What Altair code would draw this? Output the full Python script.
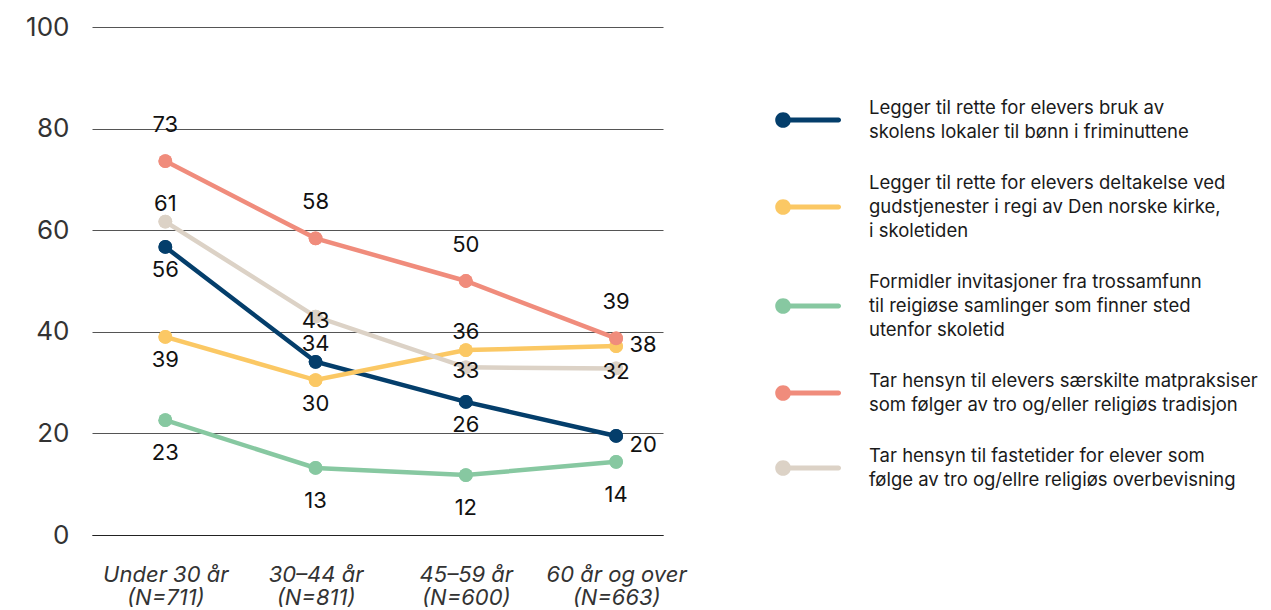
import altair as alt
import pandas as pd

ages = ["Under 30 år", "30–44 år", "45–59 år", "60 år og over"]
ns = ["(N=711)", "(N=811)", "(N=600)", "(N=663)"]

series = [
    "Legger til rette for elevers bruk av\nskolens lokaler til bønn i friminuttene",
    "Legger til rette for elevers deltakelse ved\ngudstjenester i regi av Den norske kirke,\ni skoletiden",
    "Formidler invitasjoner fra trossamfunn\ntil reigiøse samlinger som finner sted\nutenfor skoletid",
    "Tar hensyn til elevers særskilte matpraksiser\nsom følger av tro og/eller religiøs tradisjon",
    "Tar hensyn til fastetider for elever som\nfølge av tro og/ellre religiøs overbevisning",
]
colors = ["#043e6b", "#fbc864", "#87c8a1", "#f08c7c", "#dcd2c6"]

values = [
    [56.7, 34.1, 26.2, 19.5],
    [39.0, 30.5, 36.4, 37.2],
    [22.6, 13.2, 11.8, 14.4],
    [73.6, 58.4, 50.0, 38.7],
    [61.7, 43.0, 33.0, 32.8],
]
labels = [
    [56, 34, 26, 20],
    [39, 30, 36, 38],
    [23, 13, 12, 14],
    [73, 58, 50, 39],
    [61, 43, 33, 32],
]
# label placement: a = above, A = far above, b = below, B = far below,
# r = right (lower), R = right (upper), c = on point
placement = [
    ["b", "a", "b", "r"],
    ["b", "b", "a", "R"],
    ["B", "B", "B", "B"],
    ["A", "A", "A", "A"],
    ["a", "c", "c", "c"],
]

cats = [f"{a}\n{n}" for a, n in zip(ages, ns)]
rows = []
for si, s in enumerate(series):
    for ci, c in enumerate(cats):
        rows.append({"serie": s, "kat": c, "verdi": values[si][ci],
                     "etikett": str(labels[si][ci]), "plass": placement[si][ci]})
df = pd.DataFrame(rows)

FONT = "Inter"

x = alt.X("kat:N", sort=cats, title=None,
          scale=alt.Scale(type="point", padding=0.4, align=0.61),
          axis=alt.Axis(labelExpr="split(datum.label, '\\n')", labelAngle=0,
                        labelFontSize=22, labelFontStyle="italic", labelColor="#333333",
                        labelFont=FONT, labelPadding=29, labelLineHeight=23.5,
                        ticks=False, domain=True, domainColor="#222222", domainWidth=1,
                        grid=False, labelBaseline="top"))
y = alt.Y("verdi:Q", title=None,
          scale=alt.Scale(domain=[0, 100], nice=False),
          axis=alt.Axis(values=[0, 20, 40, 60, 80, 100], labelFontSize=26, labelFont=FONT,
                        labelColor="#333333", labelPadding=23, ticks=False, domain=False,
                        grid=True, gridColor="#555555", gridWidth=1))

# legend symbol: dot with a line, shifted down to the middle of the label block
SYM_SIZE = 4300
R = (SYM_SIZE ** 0.5) / 2


def sym_path(shift_px):
    d = shift_px / R
    return (f"M -1,{d:.3f} A 0.24,0.24 0 1,1 -0.52,{d:.3f} A 0.24,0.24 0 1,1 -1,{d:.3f} Z "
            f"M -0.76,{d - 0.077:.3f} L 0.93,{d - 0.077:.3f} "
            f"A 0.077,0.077 0 0,1 0.93,{d + 0.077:.3f} L -0.76,{d + 0.077:.3f} Z")


sym_expr = (f"length(split(datum.value, '\\n')) > 2 ? '{sym_path(24)}' : '{sym_path(12)}'")

cscale = alt.Scale(domain=series, range=colors)
legend = alt.Legend(title=None, orient="none", legendX=683, legendY=48,
                    symbolType=alt.ExprRef(expr=sym_expr), symbolSize=SYM_SIZE,
                    symbolStrokeWidth=0, symbolOpacity=1,
                    labelExpr="split(datum.label, '\\n')",
                    labelFontSize=18.5, labelFont=FONT, labelColor="#1a1a1a",
                    labelLimit=600, labelOffset=28, rowPadding=8,
                    labelBaseline="middle")
color = alt.Color("serie:N", sort=series, scale=cscale, legend=legend)

base = alt.Chart(df)
points = base.mark_point(filled=True, size=190, opacity=1).encode(x=x, y=y, color=color)
lines = base.mark_line(strokeWidth=4.5).encode(x=x, y=y, color=color)


def txt(code, **kw):
    return base.transform_filter(alt.datum.plass == code).mark_text(
        font=FONT, fontSize=22, color="#111111", **kw).encode(
        x=x, y=y, text="etikett:N")


texts = [
    txt("a", dy=-18),
    txt("A", dy=-36.5),
    txt("b", dy=23.5),
    txt("B", dy=33),
    txt("r", dx=27, dy=9),
    txt("R", dx=27, dy=-1),
    txt("c", dy=4),
]

chart = alt.layer(points, lines, points, *texts).properties(
    width=571, height=508,
    autosize=alt.AutoSizeParams(type="none"),
    padding={"left": 84, "top": 19, "right": 600, "bottom": 75},
).configure(
    background="white",
    style={"guide-label": alt.MarkConfig(lineHeight=24)}
).configure_view(stroke=None)

chart.save("out.html", embed_options={"renderer": "svg", "actions": False})
